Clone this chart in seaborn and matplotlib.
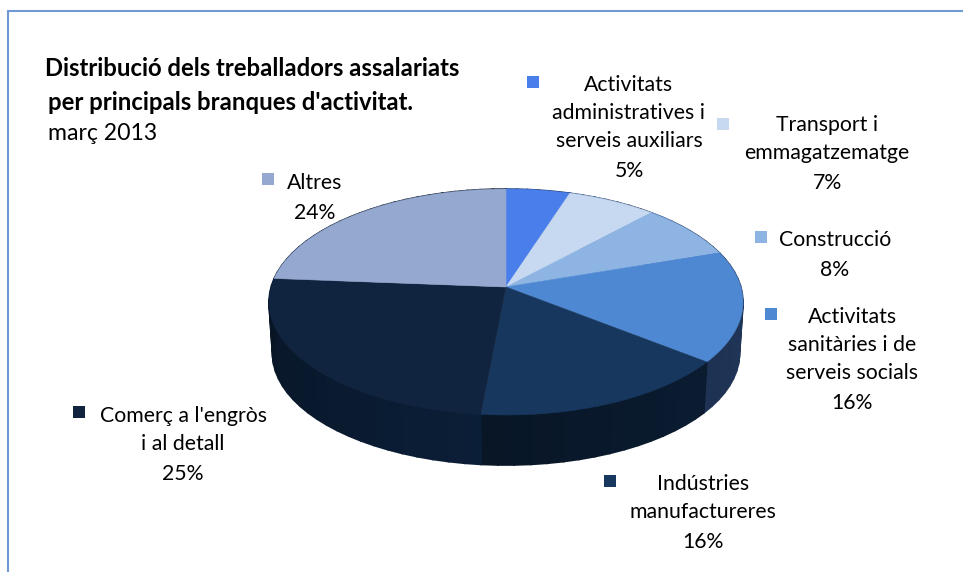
import numpy as np
import seaborn as sns
import matplotlib.pyplot as plt

# Shares as printed on the chart (they add up to 101)
sectors = ['Activitats administratives i serveis auxiliars', 'Transport i emmagatzematge', 'Construcció',
           'Activitats sanitàries i de serveis socials', 'Indústries manufactureres',
           "Comerç a l'engròs i al detall", 'Altres']
shares = [5, 7, 8, 16, 16, 25, 24]
top_colors = ['#4A7EEB', '#C6D9F1', '#8EB4E3', '#4F88D2', '#17375E', '#10243F', '#95A8CF']
side_light = ['#2A4A80', '#2A4A80', '#2A4A80', '#22385A', '#0B1C31', '#0B1E37', '#0B1E37']
side_dark = ['#22385A', '#22385A', '#22385A', '#1E3354', '#081626', '#081524', '#081524']

# label lines, key position, text position
label_lines = [['Activitats', 'administratives i', 'serveis auxiliars', '5%'],
               ['Transport i', 'emmagatzematge', '7%'],
               ['Construcció', '8%'],
               ['Activitats', 'sanitàries i de', 'serveis socials', '16%'],
               ['Indústries', 'manufactureres', '16%'],
               ["Comerç a l'engròs", 'i al detall', '25%'],
               ['Altres', '24%']]
label_x = [629, 827, 835, 852, 703, 183, 315]
label_y = [85, 125, 240, 317, 484, 416, 183]
key_x = [533, 723, 761, 771, 610, 79, 268]
key_y = [82, 124, 237, 314, 481, 412, 179]

sns.set_theme(style='white')
plt.rcParams['font.family'] = ['Lato', 'DejaVu Sans']

CX, CY = 506, 287
PERSP = 0.1327
RX, RY = 234.9, 111
DEPTH = 52
LINE_H = 28


def project(theta, scale=1.0, drop=0):
    # tilted disc seen in perspective, theta clockwise from the top
    x, y = np.sin(theta), np.cos(theta)
    w = 1 + PERSP * y
    return CX + scale * RX * x / w, CY + drop - scale * RY * y / w


fig = plt.figure(figsize=(9.63, 5.72), dpi=100)
ax = fig.add_axes([0, 0, 1, 1])
ax.set_xlim(0, 963)
ax.set_ylim(572, 0)
ax.axis('off')

edges = np.r_[0, np.cumsum(shares)] / sum(shares) * 2 * np.pi
palette = sns.color_palette(top_colors)

# side wall first, the top face hides the back of it
for i in range(len(shares)):
    n = max(shares[i], 6)
    th = np.linspace(edges[i], edges[i + 1], n + 1)
    x0, y0 = project(th)
    x1, y1 = project(th, 0.985, DEPTH)
    shades = sns.blend_palette([side_light[i], side_dark[i]], n)
    for j in range(n):
        ax.fill([x0[j], x0[j + 1], x1[j + 1], x1[j]], [y0[j], y0[j + 1], y1[j + 1], y1[j]],
                color=shades[j], lw=1.2)

for i in range(len(shares)):
    th = np.linspace(edges[i], edges[i + 1], 120)
    x0, y0 = project(th)
    ax.fill(np.r_[CX, x0], np.r_[CY, y0], color=palette[i], lw=0.4)

for i, lines in enumerate(label_lines):
    ax.scatter(key_x[i], key_y[i], marker='s', s=72, color=palette[i], linewidths=0)
    for j, line in enumerate(lines):
        # the percentage sits a touch lower than the line pitch
        extra = 2 if j == len(lines) - 1 and j > 0 else 0
        ax.text(label_x[i], label_y[i] + j * LINE_H + extra, line, ha='center', va='center',
                fontsize=15.3, color='black')

ax.text(45, 68, 'Distribució dels treballadors assalariats', fontsize=17.2, fontweight='bold', va='center', color='black')
ax.text(48, 102, "per principals branques d'activitat.", fontsize=17.2, fontweight='bold', va='center', color='black')
ax.text(48, 133, 'març 2013', fontsize=16.6, va='center', color='black')

# chart frame
ax.plot([8, 8, 963], [572, 11, 11], color='#6F9BD4', lw=1.5, solid_joinstyle='miter')

fig.savefig('out.png', dpi=100)
